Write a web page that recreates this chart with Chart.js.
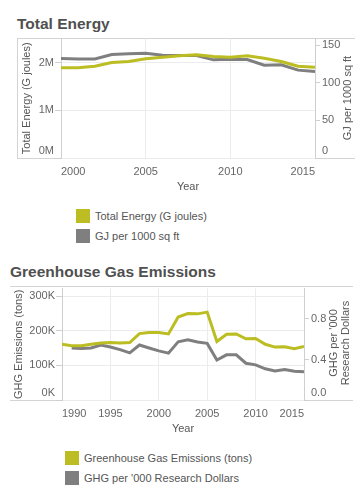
<!DOCTYPE html>
<html>
<head>
<meta charset="utf-8">
<script src="https://cdn.jsdelivr.net/npm/chart.js@4.4.1/dist/chart.umd.min.js"></script>
<style>
  body { margin: 0; width: 363px; height: 499px; position: relative; background: #fff; overflow: hidden;
         font-family: Arial, "Liberation Sans", sans-serif; }
  .title { position: absolute; font: bold 15.5px Arial, "Liberation Sans", sans-serif; color: #505050; line-height: 20px; white-space: nowrap; }
  .frame { position: absolute; box-sizing: border-box; border-top: 1px solid #d4d4d4; border-bottom: 1px solid #d4d4d4; }
  canvas { position: absolute; left: 0; }
  .rtitle { position: absolute; font-size: 11px; color: #555; transform: rotate(-90deg); white-space: nowrap;
            text-align: center; line-height: 12px; }
  .legend { position: absolute; font-size: 11px; color: #555; }
  .legend .row { height: 20px; display: flex; align-items: center; }
  .legend .sw { width: 14px; height: 14px; display: inline-block; margin-right: 5px; }
</style>
</head>
<body>
<div class="title" style="left:17px; top:14px;">Total Energy</div>
<div class="frame" style="left:17px; top:38px; width:338px; height:121px; border-left:1px solid #d4d4d4;"></div>
<canvas id="energyChart" width="363" height="167" style="top:30px;"></canvas>
<div class="rtitle" style="left:277px; top:92px; width:140px;">GJ per 1000 sq ft</div>
<div class="legend" id="energyLegend" style="left:76px; top:206px;"></div>

<div class="title" style="left:10px; top:262px;">Greenhouse Gas Emissions</div>
<div class="frame" style="left:10px; top:286px; width:343px; height:115px;"></div>
<canvas id="ghgChart" width="363" height="160" style="top:280px;"></canvas>
<div class="rtitle" style="left:269px; top:331px; width:140px;">GHG per '000<br>Research Dollars</div>
<div class="legend" id="ghgLegend" style="left:65px; top:448px;"></div>

<script>
const OLIVE = "#bcbd22";
const GREY = "#7f7f7f";

// Total Energy
const energyYears = [2000, 2001, 2002, 2003, 2004, 2005, 2006, 2007, 2008, 2009, 2010, 2011, 2012, 2013, 2014, 2015];
const totalEnergy = [1890000, 1890000, 1920000, 2000000, 2020000, 2080000, 2110000, 2140000, 2160000, 2125000, 2110000, 2140000, 2090000, 2020000, 1920000, 1900000];
const gjPerSqFt = [132.5, 132, 132, 137.7, 138.7, 139.5, 136.8, 136.4, 136.4, 130.7, 131.5, 131.1, 123.6, 124.1, 117, 115.2];
const energyTicks = [0, 1000000, 2000000];
const gjTicks = [0, 50, 100, 150];

// Greenhouse Gas Emissions
const ghgYears = [1990, 1991, 1992, 1993, 1994, 1995, 1996, 1997, 1998, 1999, 2000, 2001, 2002, 2003, 2004, 2005, 2006, 2007, 2008, 2009, 2010, 2011, 2012, 2013, 2014, 2015];
const ghgTons = [161000, 157000, 157000, 161000, 165000, 166000, 165000, 166000, 192000, 195000, 195000, 191000, 240000, 250000, 249000, 254000, 169000, 190000, 191000, 177000, 178000, 161000, 153000, 154000, 148000, 155000];
const intensityYears = [1991, 1992, 1993, 1994, 1995, 1996, 1997, 1998, 1999, 2000, 2001, 2002, 2003, 2004, 2005, 2006, 2007, 2008, 2009, 2010, 2011, 2012, 2013, 2014, 2015];
const ghgPerDollar = [0.514, 0.508, 0.514, 0.543, 0.524, 0.498, 0.466, 0.543, 0.514, 0.485, 0.463, 0.575, 0.594, 0.572, 0.559, 0.395, 0.446, 0.446, 0.363, 0.347, 0.308, 0.286, 0.302, 0.283, 0.280];
const ghgTicks = [0, 100000, 200000, 300000];
const intensityTicks = [0, 0.4, 0.8];

const toPoints = (years, values) => years.map((yr, i) => ({ x: yr, y: values[i] }));

const lineSet = (label, color, years, values, axis) => ({
  label: label,
  data: toPoints(years, values),
  borderColor: color,
  backgroundColor: color,
  borderWidth: 3,
  pointRadius: 0,
  tension: 0,
  yAxisID: axis,
});

const tickFont = { family: "Arial, 'Liberation Sans', sans-serif", size: 11 };

const makeOptions = (cfg) => ({
  responsive: false,
  animation: false,
  layout: { padding: cfg.padding },
  plugins: { legend: { display: false }, tooltip: { enabled: false } },
  scales: {
    x: {
      type: "linear",
      min: cfg.xMin,
      max: cfg.xMax,
      afterFit: (scale) => { scale.height = cfg.xHeight; },
      ticks: {
        stepSize: 5,
        align: "inner",
        padding: 7,
        maxRotation: 0,
        color: "#666",
        font: tickFont,
        callback: (v) => String(v),
      },
      grid: { color: "#ececec", drawTicks: false },
      border: { display: false },
      title: { display: true, text: "Year", color: "#555", font: tickFont, padding: { top: 0, bottom: cfg.yearPad } },
    },
    y: {
      position: "left",
      min: 0,
      max: cfg.leftMax,
      afterBuildTicks: (scale) => { scale.ticks = cfg.leftTicks.map((v) => ({ value: v })); },
      afterFit: (scale) => { scale.width = cfg.leftWidth; },
      ticks: {
        padding: 1,
        color: "#666",
        font: tickFont,
        callback: (v) => (v === 0 ? [cfg.leftFmt(v), ""] : cfg.leftFmt(v)),
      },
      grid: { color: "#ececec", tickColor: "#cfcfcf", tickLength: 6 },
      border: { color: "#cfcfcf" },
      title: { display: true, text: cfg.leftTitle, color: "#555", font: tickFont, padding: 0 },
    },
    y1: {
      position: "right",
      min: 0,
      max: cfg.rightMax,
      afterBuildTicks: (scale) => { scale.ticks = cfg.rightTicks.map((v) => ({ value: v })); },
      afterFit: (scale) => { scale.width = cfg.rightWidth; },
      ticks: {
        padding: 2,
        color: "#666",
        font: tickFont,
        callback: (v) => (v === 0 ? [cfg.rightFmt(v), ""] : cfg.rightFmt(v)),
      },
      grid: { drawOnChartArea: false, tickColor: "#cfcfcf", tickLength: 5 },
      border: { color: "#cfcfcf" },
    },
  },
});

const drawLegend = (id, datasets) => {
  const box = document.getElementById(id);
  datasets.forEach((ds) => {
    const row = document.createElement("div");
    row.className = "row";
    const sw = document.createElement("span");
    sw.className = "sw";
    sw.style.background = ds.borderColor;
    const txt = document.createElement("span");
    txt.textContent = ds.label;
    row.appendChild(sw);
    row.appendChild(txt);
    box.appendChild(row);
  });
};

const drawEnergyChart = () => {
  const datasets = [
    lineSet("Total Energy (G joules)", OLIVE, energyYears, totalEnergy, "y"),
    lineSet("GJ per 1000 sq ft", GREY, energyYears, gjPerSqFt, "y1"),
  ];
  const ctx = document.getElementById("energyChart").getContext("2d");
  new Chart(ctx, {
    type: "line",
    data: { datasets: datasets },
    options: makeOptions({
      padding: { left: 20, right: 8, top: 8, bottom: 0 },
      xMin: 2000,
      xMax: 2015,
      xHeight: 39,
      yearPad: 3,
      leftMax: 2500000,
      leftTicks: energyTicks,
      leftWidth: 41,
      leftFmt: (v) => v / 1000000 + "M",
      leftTitle: "Total Energy (G joules)",
      rightMax: 159,
      rightTicks: gjTicks,
      rightWidth: 40,
      rightFmt: (v) => String(v),
    }),
  });
  drawLegend("energyLegend", datasets);
};

const drawGhgChart = () => {
  const datasets = [
    lineSet("Greenhouse Gas Emissions (tons)", OLIVE, ghgYears, ghgTons, "y"),
    lineSet("GHG per '000 Research Dollars", GREY, intensityYears, ghgPerDollar, "y1"),
  ];
  const ctx = document.getElementById("ghgChart").getContext("2d");
  new Chart(ctx, {
    type: "line",
    data: { datasets: datasets },
    options: makeOptions({
      padding: { left: 12, right: 19, top: 6, bottom: 0 },
      xMin: 1990,
      xMax: 2015,
      xHeight: 40,
      yearPad: 4,
      leftMax: 322000,
      leftTicks: ghgTicks,
      leftWidth: 50,
      leftFmt: (v) => v / 1000 + "K",
      leftTitle: "GHG Emissions (tons)",
      rightMax: 1.1,
      rightTicks: intensityTicks,
      rightWidth: 40,
      rightFmt: (v) => v.toFixed(1),
    }),
  });
  drawLegend("ghgLegend", datasets);
};

document.addEventListener("DOMContentLoaded", function () {
  drawEnergyChart();
  drawGhgChart();
});
</script>
</body>
</html>
